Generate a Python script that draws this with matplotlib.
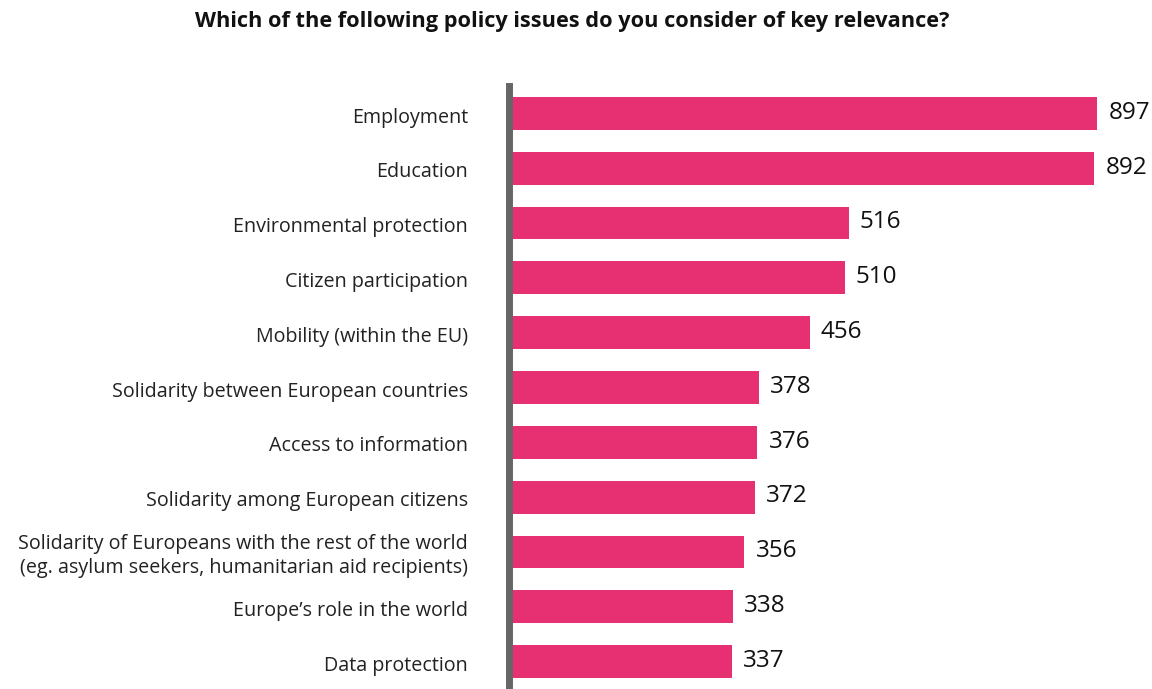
import matplotlib
matplotlib.use("Agg")
import matplotlib.pyplot as plt

categories = [
    "Employment",
    "Education",
    "Environmental protection",
    "Citizen participation",
    "Mobility (within the EU)",
    "Solidarity between European countries",
    "Access to information",
    "Solidarity among European citizens",
    "Solidarity of Europeans with the rest of the world\n(eg. asylum seekers, humanitarian aid recipients)",
    "Europe\u2019s role in the world",
    "Data protection",
]
values = [897, 892, 516, 510, 456, 378, 376, 372, 356, 338, 337]

BAR = "#E63071"
AXIS = "#666666"

plt.rcParams['font.family'] = ['Open Sans', 'DejaVu Sans']

fig = plt.figure(figsize=(11.52, 6.89), dpi=100)
ax = fig.add_axes([512/1152, 0.0, 620/1152, 1 - 86/689])

y = list(range(len(categories)))
ax.barh(y, values, height=0.6, color=BAR, zorder=2)
ax.set_ylim(10.5, -0.5)
ax.set_xlim(0, 950)

for yi, v in zip(y, values):
    ax.annotate(str(v), (v, yi), xytext=(8, 0.5), textcoords="offset points",
                va="center", ha="left", fontsize=17.5, color="#111111")

for yi, cat in zip(y, categories):
    ax.annotate(cat, xy=(0, yi), xycoords=ax.get_yaxis_transform(),
                xytext=(-31.7, -3), textcoords="offset points",
                ha="right", va="center", fontsize=14.2, color="#222222",
                linespacing=1.3, annotation_clip=False)

ax.set_yticks([])
ax.set_xticks([])

for s in ["top", "right", "bottom"]:
    ax.spines[s].set_visible(False)
ax.spines["left"].set_color(AXIS)
ax.spines["left"].set_linewidth(5)
ax.spines["left"].set_position(("outward", 2.5))

fig.text(572/1152, 1 - 22/689, "Which of the following policy issues do you consider of key relevance?",
         ha="center", va="center", fontsize=15.7, fontweight="bold", color="#111111")

fig.savefig("out.png", dpi=100)
